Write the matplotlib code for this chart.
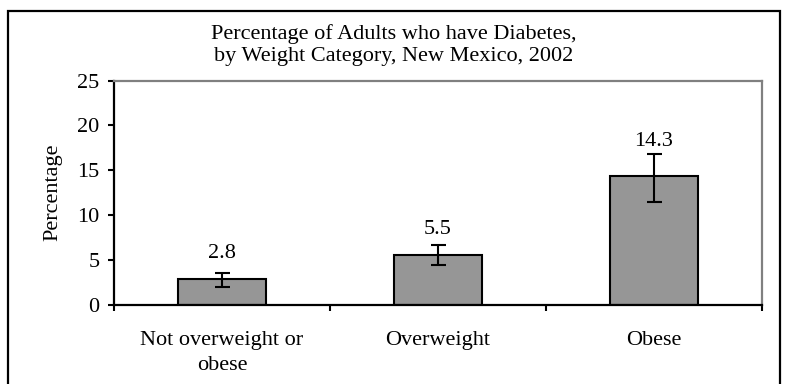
import matplotlib
matplotlib.use("Agg")
import matplotlib.pyplot as plt
from matplotlib.patches import Rectangle

plt.rcParams["font.family"] = ["Liberation Serif", "DejaVu Serif"]

categories = ["Not overweight or\nobese", "Overweight", "Obese"]
values = [2.8, 5.5, 14.3]
ci_low = [2.0, 4.4, 11.5]
ci_high = [3.5, 6.6, 16.8]
y_ticks = [0, 5, 10, 15, 20, 25]
title = "Percentage of Adults who have Diabetes,\nby Weight Category, New Mexico, 2002"
y_label = "Percentage"

FS = 16
fig = plt.figure(figsize=(7.88, 3.84), dpi=100)

# outer chart border
fig.patches.append(Rectangle((8 / 788, -0.05), (780 - 8) / 788, 1 - 11 / 384 + 0.05,
                             transform=fig.transFigure, fill=False,
                             edgecolor="black", linewidth=1.6, zorder=0))

ax = fig.add_axes([114 / 788, 1 - 304.5 / 384, (762 - 114) / 788, (304.5 - 80.6) / 384])

x = [i + 0.5 for i in range(len(categories))]
err = [[v - lo for v, lo in zip(values, ci_low)],
       [hi - v for v, hi in zip(values, ci_high)]]
ax.bar(x, values, width=0.41, color="#969696", edgecolor="black", linewidth=1.5, zorder=2)
ax.errorbar(x, values, yerr=err, fmt="none", ecolor="black", elinewidth=1.5,
            capsize=5.4, capthick=1.5, zorder=3)

label_pad = [7.5, 4.5, 2]
for xi, v, hi, pad in zip(x, values, ci_high, label_pad):
    ax.annotate(f"{v:.1f}", (xi, hi), xytext=(0, pad), textcoords="offset points",
                ha="center", va="bottom", fontsize=FS)

ax.set_xlim(0, 3)
ax.set_ylim(0, 25)
ax.set_yticks(y_ticks)
ax.set_yticklabels([str(t) for t in y_ticks], fontsize=FS)
ax.set_xticks([0, 1, 2, 3])
ax.set_xticklabels([])
ax.set_xticks(x, minor=True)
ax.set_xticklabels(categories, minor=True, fontsize=FS, linespacing=1.45)
ax.tick_params(axis="x", which="major", direction="out", length=4.5, width=1.5)
ax.tick_params(axis="x", which="minor", length=0, pad=19)
ax.tick_params(axis="y", direction="out", length=4.5, width=1.5, pad=6)

for side in ("left", "bottom"):
    ax.spines[side].set_color("black")
    ax.spines[side].set_linewidth(1.6)
for side in ("top", "right"):
    ax.spines[side].set_color("#808080")
    ax.spines[side].set_linewidth(1.6)

ax.set_ylabel(y_label, fontsize=FS, labelpad=11)
fig.text(394 / 788, 1 - 24 / 384, title, ha="center", va="top", fontsize=FS,
         linespacing=1.25)

fig.savefig("out.png", dpi=100)
